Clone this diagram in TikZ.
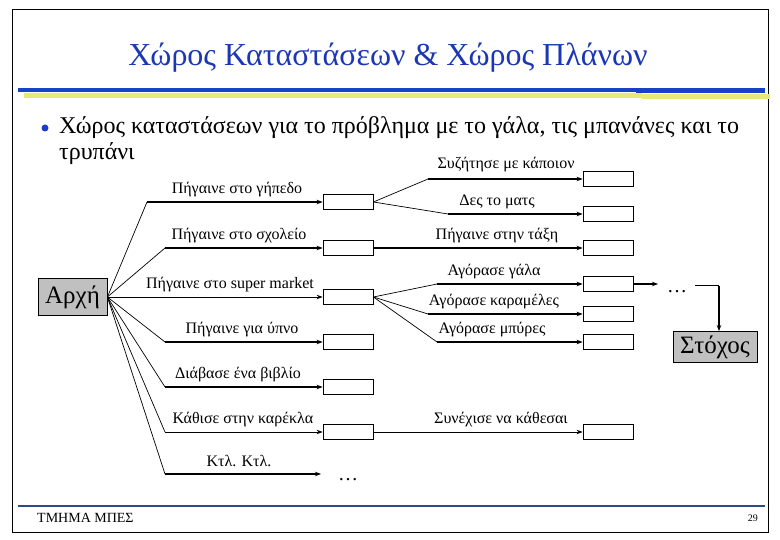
\documentclass[tikz,border=0pt]{standalone}
\usepackage{fontspec}
\setmainfont{Liberation Serif}
\usetikzlibrary{arrows.meta}
\definecolor{titleblue}{RGB}{28,55,180}
\definecolor{hblue}{RGB}{25,65,200}
\definecolor{hyellow}{RGB}{232,232,120}
\definecolor{footblue}{RGB}{45,75,140}
\definecolor{bulletblue}{RGB}{30,60,200}
\definecolor{boxgray}{RGB}{192,192,192}
\begin{document}
\begin{tikzpicture}[x=1pt,y=-1pt,
  box/.style={draw, line width=0.8pt, minimum width=50pt, minimum height=15pt, inner sep=0pt},
  lbl/.style={font=\fontsize{16}{18}\selectfont, inner sep=0pt, anchor=base},
  fan/.style={line width=0.7pt},
  arr/.style={line width=1.6pt, -{Stealth[length=6pt,width=4.5pt]}},
  tarr/.style={line width=0.9pt, -{Stealth[length=6pt,width=4.5pt]}},
  gbox/.style={draw, fill=boxgray, line width=0.8pt, inner sep=0pt, font=\fontsize{25}{28}\selectfont},
  dots/.style={inner sep=0pt, anchor=base, font=\fontsize{20}{24}\selectfont}
]
\useasboundingbox (0,0) rectangle (780,540);
% frame
\draw[line width=1pt] (12,10) rectangle (768,532);
% title
\node[font=\fontsize{32}{36}\selectfont, text=titleblue, inner sep=0pt] (title) at (388,58) {Χώρος Καταστάσεων \& Χώρος Πλάνων};
\fill[hblue] (18,88) rectangle (636,92);
\fill[hblue] (636,88) rectangle (765,93);
\fill[hyellow] (24,93) rectangle (642,98);
\fill[hyellow] (642,94) rectangle (770,99);
% bullet
\fill[bulletblue] (45,128) circle (3.5);
\node[font=\fontsize{24}{26}\selectfont, anchor=base west, inner sep=0pt] (t1) at (59,134) {Χώρος καταστάσεων για το πρόβλημα με το γάλα, τις μπανάνες και το};
\node[font=\fontsize{24}{26}\selectfont, anchor=base west, inner sep=0pt] (t2) at (59,160) {τρυπάνι};
% start / goal
\node[gbox, minimum width=69pt, minimum height=37pt] (a) at (72.5,297) {Αρχή};
\node[gbox, minimum width=84pt, minimum height=31pt] (goal) at (715,347) {Στόχος};
% column 1 boxes
\node[box] (b1) at (348,202) {};
\node[box] (b2) at (348,248) {};
\node[box] (b3) at (348,297) {};
\node[box] (b4) at (348,342) {};
\node[box] (b5) at (348,387) {};
\node[box] (b6) at (348,432) {};
% column 2 boxes
\node[box] (c1) at (608,179) {};
\node[box] (c2) at (608,214) {};
\node[box] (c3) at (608,248) {};
\node[box] (c4) at (608,284) {};
\node[box] (c5) at (608,314) {};
\node[box] (c6) at (608,342) {};
\node[box] (c7) at (608,432) {};
% bends
\coordinate (k1) at (147,202);
\coordinate (k2) at (165,248);
\coordinate (k4) at (165,342);
\coordinate (k5) at (165,387);
\coordinate (k6) at (165,432);
\coordinate (k7) at (165,474);
\coordinate (d7) at (321,474);
\coordinate (m1) at (428,179);
\coordinate (m2) at (448,214);
\coordinate (m4) at (437,284);
\coordinate (m5) at (428,314);
\coordinate (m6) at (437,342);
\coordinate (e4) at (658,284);
\coordinate (f1) at (695,286);
\coordinate (f2) at (719,286);
% dots
\node[dots] (dots1) at (348,480) {\ldots};
\node[dots] (dots2) at (677,293) {\ldots};
% fan from start
\draw[fan] (a.east) -- (k1); \draw[arr] (k1) -- (b1.west);
\draw[fan] (a.east) -- (k2); \draw[arr] (k2) -- (b2.west);
\draw[tarr] (a.east) -- (b3.west);
\draw[fan] (a.east) -- (k4); \draw[arr] (k4) -- (b4.west);
\draw[fan] (a.east) -- (k5); \draw[arr] (k5) -- (b5.west);
\draw[fan] (a.east) -- (k6); \draw[tarr] (k6) -- (b6.west);
\draw[fan] (a.east) -- (k7); \draw[arr] (k7) -- (d7);
% second level
\draw[fan] (b1.east) -- (m1); \draw[arr] (m1) -- (c1.west);
\draw[fan] (b1.east) -- (m2); \draw[arr] (m2) -- (c2.west);
\draw[arr] (b2.east) -- (c3.west);
\draw[fan] (b3.east) -- (m4); \draw[arr] (m4) -- (c4.west);
\draw[fan] (b3.east) -- (m5); \draw[arr] (m5) -- (c5.west);
\draw[fan] (b3.east) -- (m6); \draw[arr] (m6) -- (c6.west);
\draw[tarr] (b6.east) -- (c7.west);
\draw[arr] (c4.east) -- (e4);
\draw[line width=1pt] (f1) -- (f2);
\draw[line width=1.4pt, -{Stealth[length=6pt,width=4.5pt]}] (f2) -- (f2 |- goal.north);
% labels col 1
\node[lbl] (l1) at (237,194) {Πήγαινε στο γήπεδο};
\node[lbl] (l2) at (239,240) {Πήγαινε στο σχολείο};
\node[lbl] (l3) at (230,289) {Πήγαινε στο super market};
\node[lbl] (l4) at (242,334) {Πήγαινε για ύπνο};
\node[lbl] (l5) at (238,379) {Διάβασε ένα βιβλίο};
\node[lbl] (l6) at (243,424) {Κάθισε στην καρέκλα};
\node[lbl] (l7) at (239,466) {Κτλ. Κτλ.};
% labels col 2
\node[lbl] (n1) at (506,169) {Συζήτησε με κάποιον};
\node[lbl] (n2) at (497,206) {Δες το ματς};
\node[lbl] (n3) at (497,240) {Πήγαινε στην τάξη};
\node[lbl] (n4) at (494,276) {Αγόρασε γάλα};
\node[lbl] (n5) at (494,306) {Αγόρασε καραμέλες};
\node[lbl] (n6) at (492,334) {Αγόρασε μπύρες};
\node[lbl] (n7) at (501,424) {Συνέχισε να κάθεσαι};
% footer
\draw[footblue, line width=1.5pt] (18,506) -- (765,506);
\node[font=\fontsize{14}{16}\selectfont, anchor=base west, inner sep=0pt] (foot) at (37,522) {ΤΜΗΜΑ ΜΠΕΣ};
\node[font=\fontsize{10}{12}\selectfont, anchor=base east, inner sep=0pt] (page) at (758,521) {29};
\end{tikzpicture}
\end{document}
